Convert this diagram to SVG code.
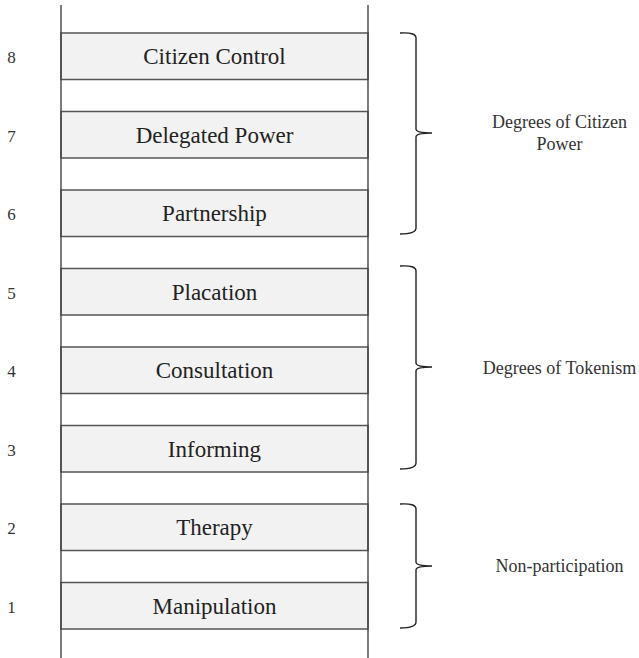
<svg xmlns="http://www.w3.org/2000/svg" width="639" height="658" viewBox="0 0 639 658">
  <style>
    .rung { fill: #f2f2f2; stroke: #555555; stroke-width: 1.5; }
    .rail { stroke: #444444; stroke-width: 1.4; fill: none; }
    .brace { stroke: #222222; stroke-width: 1.4; fill: none; }
    .label { font-family: "Liberation Serif", "Times New Roman", serif; font-size: 23px; fill: #222222; text-anchor: middle; }
    .num { font-family: "Liberation Serif", "Times New Roman", serif; font-size: 17px; fill: #333333; text-anchor: middle; }
    .group { font-family: "Liberation Serif", "Times New Roman", serif; font-size: 18px; fill: #333333; text-anchor: middle; }
  </style>
  <rect width="639" height="658" fill="#ffffff"/>

  <!-- ladder rungs -->
  <g id="rung-8"><rect class="rung" x="61" y="33" width="307" height="46.5"/><text class="label" x="214.5" y="64">Citizen Control</text><text class="num" x="11.5" y="63">8</text></g>
  <g id="rung-7"><rect class="rung" x="61" y="111.5" width="307" height="46.5"/><text class="label" x="214.5" y="142.5">Delegated Power</text><text class="num" x="11.5" y="141.5">7</text></g>
  <g id="rung-6"><rect class="rung" x="61" y="190" width="307" height="46.5"/><text class="label" x="214.5" y="221">Partnership</text><text class="num" x="11.5" y="220">6</text></g>
  <g id="rung-5"><rect class="rung" x="61" y="268.5" width="307" height="46.5"/><text class="label" x="214.5" y="299.5">Placation</text><text class="num" x="11.5" y="298.5">5</text></g>
  <g id="rung-4"><rect class="rung" x="61" y="347" width="307" height="46.5"/><text class="label" x="214.5" y="378">Consultation</text><text class="num" x="11.5" y="377">4</text></g>
  <g id="rung-3"><rect class="rung" x="61" y="425.5" width="307" height="46.5"/><text class="label" x="214.5" y="456.5">Informing</text><text class="num" x="11.5" y="455.5">3</text></g>
  <g id="rung-2"><rect class="rung" x="61" y="504" width="307" height="46.5"/><text class="label" x="214.5" y="535">Therapy</text><text class="num" x="11.5" y="534">2</text></g>
  <g id="rung-1"><rect class="rung" x="61" y="582.5" width="307" height="46.5"/><text class="label" x="214.5" y="613.5">Manipulation</text><text class="num" x="11.5" y="612.5">1</text></g>

  <!-- ladder rails -->
  <g id="connectors">
    <line class="rail" x1="61" y1="5" x2="61" y2="658"/>
    <line class="rail" x1="368" y1="5" x2="368" y2="658"/>

    <!-- grouping braces -->
    <path class="brace" d="M400,33 Q416,32 416,38 L416,129 Q416,133 432,133 Q416,133 416,137 L416,228 Q416,234 400,234"/>
    <path class="brace" d="M400,266 Q416,265 416,271 L416,363 Q416,367 432,367 Q416,367 416,371 L416,463 Q416,469 400,469"/>
    <path class="brace" d="M400,504 Q416,503 416,509 L416,562 Q416,566 432,566 Q416,566 416,570 L416,622 Q416,628 400,628"/>
  </g>

  <!-- group labels -->
  <g id="group-citizen-power"><text class="group" x="559.5" y="128">Degrees of Citizen</text><text class="group" x="559.5" y="150">Power</text></g>
  <g id="group-tokenism"><text class="group" x="559.5" y="374">Degrees of Tokenism</text></g>
  <g id="group-non-participation"><text class="group" x="559.5" y="572">Non-participation</text></g>
</svg>
